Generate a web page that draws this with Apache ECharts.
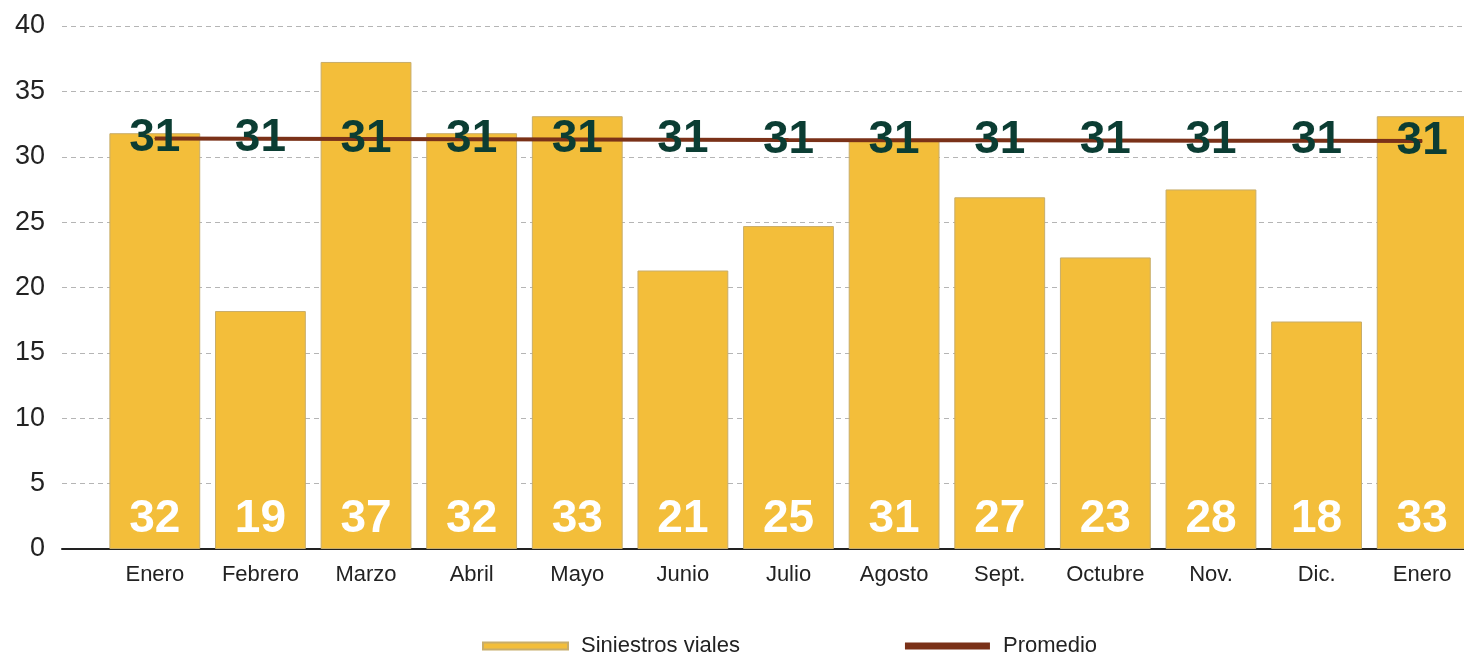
<!DOCTYPE html>
<html>
<head>
<meta charset="utf-8">
<script src="https://cdn.jsdelivr.net/npm/echarts@6/dist/echarts.min.js"></script>
<style>
  html, body { margin: 0; padding: 0; background: #fff; }
  #chart { width: 1464px; height: 653px; }
</style>
</head>
<body>
<div id="chart"></div>
<script>
// data
const months = ['Enero', 'Febrero', 'Marzo', 'Abril', 'Mayo', 'Junio', 'Julio', 'Agosto', 'Sept.', 'Octubre', 'Nov.', 'Dic.', 'Enero']
const siniestros = [31.8, 18.2, 37.25, 31.8, 33.1, 21.3, 24.7, 31.2, 26.9, 22.3, 27.5, 17.4, 33.1]
const siniestrosLabels = ['32', '19', '37', '32', '33', '21', '25', '31', '27', '23', '28', '18', '33']
const promedio = [31.4, 31.38, 31.36, 31.34, 31.32, 31.3, 31.28, 31.27, 31.26, 31.24, 31.23, 31.22, 31.2]
const promedioLabels = ['31', '31', '31', '31', '31', '31', '31', '31', '31', '31', '31', '31', '31']

const yellow = '#F3BE3A'
const brown = '#7A3118'
const font = '"Liberation Sans", Arial, sans-serif'

const chart = echarts.init(document.getElementById('chart'))

const option = {
  animation: false,
  grid: [
    { left: 62, right: 0, top: 26, bottom: 104 },    // gridlines + y axis
    // bars: the last one runs past the right edge
    { left: 102, width: 1373, top: 26, bottom: 104, outerBoundsMode: 'none' }
  ],
  legend: {
    left: 482,
    top: 635,
    padding: 0,
    itemWidth: 85,
    itemHeight: 7,
    itemGap: 165,
    textStyle: { fontFamily: font, fontSize: 22, color: '#222', padding: [0, 0, 10, 8] },
    data: [
      { name: 'Siniestros viales', icon: 'rect' },
      { name: 'Promedio', icon: 'rect' }
    ]
  },
  xAxis: [
    {
      gridIndex: 0,
      type: 'value',
      min: 0,
      max: 1,
      axisLine: { show: true, lineStyle: { color: '#222', width: 2 } },
      axisTick: { show: false },
      axisLabel: { show: false },
      splitLine: { show: false }
    },
    {
      gridIndex: 1,
      type: 'category',
      data: months,
      axisLine: { show: false },
      axisTick: { show: false },
      axisLabel: { fontFamily: font, fontSize: 22, color: '#222', margin: 15 }
    }
  ],
  yAxis: [
    {
      gridIndex: 0,
      type: 'value',
      min: 0,
      max: 40,
      interval: 5,
      axisLine: { show: false },
      axisTick: { show: false },
      axisLabel: { fontFamily: font, fontSize: 27, color: '#222', margin: 17 },
      splitLine: { lineStyle: { color: '#b5b5b5', type: [5, 4], width: 1 } }
    },
    {
      gridIndex: 1,
      type: 'value',
      min: 0,
      max: 40,
      show: false
    }
  ],
  series: [
    {
      name: 'Siniestros viales',
      type: 'bar',
      xAxisIndex: 1,
      yAxisIndex: 1,
      data: siniestros,
      barCategoryGap: '14%',
      itemStyle: { color: yellow, borderColor: '#c8ad6a', borderWidth: 1 },
      label: {
        show: true,
        position: 'insideBottom',
        distance: 7,
        fontFamily: font,
        fontWeight: 'bold',
        fontSize: 46,
        color: '#fff',
        formatter: p => siniestrosLabels[p.dataIndex]
      },
      z: 2
    },
    {
      name: 'Promedio',
      type: 'line',
      xAxisIndex: 1,
      yAxisIndex: 1,
      data: promedio,
      symbol: 'circle',
      symbolSize: 1,
      color: brown,
      lineStyle: { color: brown, width: 4 },
      label: {
        show: true,
        position: 'inside',
        offset: [0, 0],
        fontFamily: font,
        fontWeight: 'bold',
        fontSize: 46,
        color: '#0B3D33',
        formatter: p => promedioLabels[p.dataIndex]
      },
      z: 5
    }
  ]
}

chart.setOption(option)
window.addEventListener('resize', () => chart.resize())
</script>
</body>
</html>
